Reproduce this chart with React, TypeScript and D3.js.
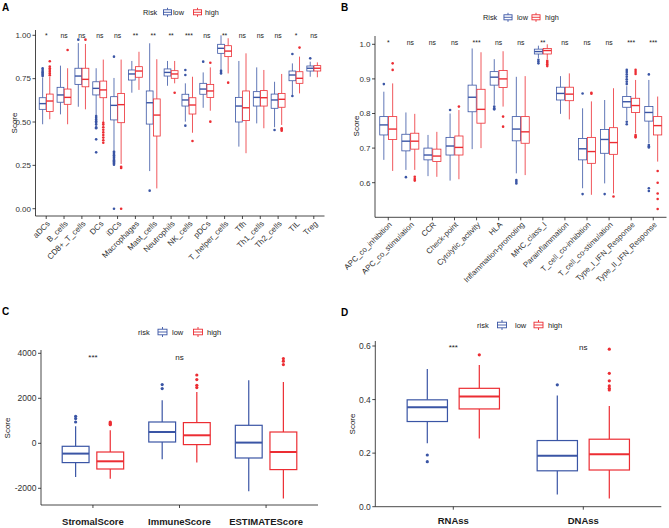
import React from "react";
import * as d3 from "d3";

const LOW_COLOR = "#3A55A5";
const HIGH_COLOR = "#EC2D33";
const FONT = "'Liberation Sans', Arial, Helvetica, sans-serif";
const INK = "#1a1a1a";

// ---------- Panel A ----------
const aCategories = ["aDCs", "B_cells", "CD8+_T_cells", "DCs", "iDCs", "Macrophages", "Mast_cells", "Neutrophils", "NK_cells", "pDCs", "T_helper_cells", "Tfh", "Th1_cells", "Th2_cells", "TIL", "Treg"];
const aSignif = ["*", "ns", "ns", "ns", "ns", "**", "**", "**", "***", "ns", "**", "ns", "ns", "ns", "*", "ns"];
// [lower whisker, Q1, median, Q3, upper whisker]
const aLowStats = [
  [0.487, 0.573, 0.606, 0.640, 0.757],
  [0.544, 0.614, 0.656, 0.700, 0.825],
  [0.588, 0.717, 0.765, 0.810, 0.955],
  [0.540, 0.656, 0.694, 0.732, 0.810],
  [0.338, 0.512, 0.596, 0.646, 0.754],
  [0.669, 0.742, 0.777, 0.800, 0.852],
  [0.217, 0.488, 0.611, 0.679, 0.954],
  [0.709, 0.765, 0.786, 0.806, 0.852],
  [0.502, 0.592, 0.627, 0.660, 0.723],
  [0.582, 0.660, 0.690, 0.723, 0.786],
  [0.804, 0.896, 0.925, 0.948, 1.000],
  [0.358, 0.500, 0.592, 0.642, 0.852],
  [0.492, 0.592, 0.642, 0.675, 0.815],
  [0.470, 0.579, 0.627, 0.661, 0.732],
  [0.656, 0.738, 0.771, 0.794, 0.838],
  [0.761, 0.794, 0.810, 0.823, 0.848],
];
const aHighStats = [
  [0.516, 0.560, 0.621, 0.661, 0.760],
  [0.487, 0.602, 0.642, 0.690, 0.810],
  [0.573, 0.703, 0.746, 0.810, 0.950],
  [0.500, 0.640, 0.685, 0.736, 0.860],
  [0.258, 0.496, 0.600, 0.665, 0.860],
  [0.685, 0.758, 0.794, 0.819, 0.905],
  [0.117, 0.419, 0.540, 0.633, 0.862],
  [0.723, 0.752, 0.777, 0.796, 0.852],
  [0.438, 0.546, 0.598, 0.640, 0.761],
  [0.565, 0.642, 0.679, 0.717, 0.815],
  [0.780, 0.877, 0.909, 0.940, 0.983],
  [0.320, 0.508, 0.582, 0.679, 0.896],
  [0.464, 0.592, 0.640, 0.681, 0.800],
  [0.483, 0.585, 0.631, 0.665, 0.777],
  [0.665, 0.723, 0.752, 0.790, 0.877],
  [0.758, 0.794, 0.810, 0.825, 0.844],
];
const aLowOutliers = [
  [0.765, 0.772, 0.778, 0.785, 0.79, 0.80, 0.81],
  [],
  [0.975],
  [0.535, 0.525, 0.515, 0.505, 0.495, 0.485, 0.47, 0.464, 0.40, 0.325],
  [0.877, 0.33, 0.322, 0.315, 0.308, 0.30, 0.294, 0.287, 0.28, 0.273, 0.266, 0.26, 0.254, 0.0],
  [],
  [0.104],
  [],
  [0.80, 0.771, 0.479],
  [0.848],
  [0.796, 0.788, 0.78],
  [],
  [],
  [0.454],
  [0.892, 0.65],
  [0.867],
];
const aHighOutliers = [
  [0.77, 0.78, 0.79, 0.80, 0.81, 0.82, 0.85],
  [0.915],
  [0.975],
  [0.496, 0.485, 0.47, 0.455, 0.44, 0.425, 0.41, 0.395, 0.38],
  [0.242, 0.235, 0.0],
  [],
  [],
  [0.669],
  [0.39],
  [0.842, 0.502],
  [0.727],
  [],
  [],
  [0.464, 0.457, 0.45],
  [0.929],
  [],
];
const aTicks = [0, 0.25, 0.5, 0.75, 1];

// ---------- Panel B ----------
const bCategories = ["APC_co_inhibition", "APC_co_stimulation", "CCR", "Check-point", "Cytolytic_activity", "HLA", "Inflammation-promoting", "MHC_class_I", "Parainflammation", "T_cell_co-inhibition", "T_cell_co-stimulation", "Type_I_IFN_Response", "Type_II_IFN_Response"];
const bSignif = ["*", "ns", "ns", "ns", "***", "ns", "ns", "**", "ns", "ns", "ns", "***", "***"];
const bLowStats = [
  [0.666, 0.738, 0.767, 0.791, 0.863],
  [0.637, 0.692, 0.720, 0.740, 0.803],
  [0.619, 0.666, 0.680, 0.700, 0.738],
  [0.606, 0.680, 0.706, 0.731, 0.800],
  [0.697, 0.805, 0.847, 0.882, 0.988],
  [0.825, 0.882, 0.905, 0.921, 0.957],
  [0.627, 0.721, 0.755, 0.791, 0.906],
  [0.960, 0.972, 0.979, 0.986, 0.996],
  [0.799, 0.839, 0.858, 0.876, 0.908],
  [0.584, 0.666, 0.698, 0.728, 0.815],
  [0.598, 0.685, 0.725, 0.754, 0.839],
  [0.781, 0.818, 0.834, 0.849, 0.879],
  [0.714, 0.778, 0.803, 0.820, 0.897],
];
const bHighStats = [
  [0.634, 0.725, 0.755, 0.791, 0.887],
  [0.637, 0.697, 0.720, 0.743, 0.799],
  [0.617, 0.661, 0.677, 0.697, 0.747],
  [0.610, 0.680, 0.702, 0.735, 0.810],
  [0.700, 0.772, 0.812, 0.870, 0.977],
  [0.820, 0.875, 0.900, 0.924, 0.980],
  [0.622, 0.714, 0.747, 0.791, 0.908],
  [0.957, 0.972, 0.982, 0.988, 1.000],
  [0.783, 0.837, 0.856, 0.876, 0.916],
  [0.565, 0.656, 0.690, 0.731, 0.835],
  [0.569, 0.682, 0.716, 0.759, 0.873],
  [0.743, 0.803, 0.823, 0.844, 0.897],
  [0.661, 0.738, 0.765, 0.791, 0.849],
];
const bLowOutliers = [
  [0.885],
  [0.616],
  [],
  [0.81],
  [],
  [0.82, 0.815, 0.812],
  [0.608, 0.603, 0.598],
  [0.955, 0.95, 0.945],
  [],
  [0.858, 0.567],
  [0.567],
  [0.926, 0.92, 0.913, 0.906, 0.899, 0.892, 0.885, 0.776, 0.769],
  [0.913, 0.709, 0.705, 0.702, 0.584, 0.576],
];
const bHighOutliers = [
  [0.945, 0.926],
  [0.617, 0.611, 0.606],
  [],
  [0.82],
  [],
  [0.791, 0.762],
  [],
  [0.952, 0.947, 0.942, 0.937],
  [],
  [0.857, 0.86],
  [0.56],
  [0.926, 0.92, 0.914, 0.738, 0.734, 0.731],
  [0.634, 0.60, 0.569, 0.553, 0.524],
];
const bTicks = [0.6, 0.7, 0.8, 0.9, 1.0];

// ---------- Panel C ----------
const cCategories = ["StromalScore", "ImmuneScore", "ESTIMATEScore"];
const cSignif = ["***", "ns", ""];
const cLowStats = [
  [-1498, -858, -458, -133, 756],
  [-711, 58, 502, 947, 1911],
  [-2133, -653, 31, 800, 2800],
];
const cHighStats = [
  [-1570, -1142, -800, -387, 578],
  [-858, -58, 356, 920, 2280],
  [-2458, -1169, -387, 502, 2724],
];
const cLowOutliers = [[1200, 1100, 947], [2609, 2431], []];
const cHighOutliers = [[947, 900, 860, 830], [3036, 2831, 2578, 2476], [3764, 3650, 3500]];
const cTicks = [-2000, 0, 2000, 4000];

// ---------- Panel D ----------
const dCategories = ["RNAss", "DNAss"];
const dSignif = ["***", "ns"];
const dLowStats = [
  [0.237, 0.318, 0.371, 0.399, 0.514],
  [0.046, 0.134, 0.190, 0.247, 0.415],
];
const dHighStats = [
  [0.255, 0.365, 0.411, 0.442, 0.529],
  [0.031, 0.137, 0.196, 0.252, 0.376],
];
const dLowOutliers = [[0.193, 0.168], [0.455]];
const dHighOutliers = [[0.567], [0.588, 0.498, 0.47, 0.451, 0.442, 0.436]];
const dTicks = [0, 0.2, 0.4, 0.6];

type PanelProps = {
  cats: string[];
  lowStats: number[][];
  highStats: number[][];
  lowOut: number[][];
  highOut: number[][];
  sig: string[];
  xr: [number, number];
  yDomain: [number, number];
  yRange: [number, number];
  axisTop: number;
  axisBottom: number;
  ticks: number[];
  fmt: (v: number) => string;
  boxW: number;
  dodge: number;
  rotate: boolean;
  tickFont: number;
  labelFont: number;
  sigFont: number;
  sigY: number;
  r: number;
  sw: number;
  mw: number;
  labelY: number;
};

function BoxPanel(p: PanelProps) {
  const xs = d3.scalePoint<string>().domain(p.cats).range(p.xr).padding(0.6);
  const step = xs.step();
  const y = d3.scaleLinear().domain(p.yDomain).range(p.yRange);
  const x0 = p.xr[0];
  const groups = [
    { stats: p.lowStats, out: p.lowOut, color: LOW_COLOR, sign: -1 },
    { stats: p.highStats, out: p.highOut, color: HIGH_COLOR, sign: 1 },
  ];
  const hw = (p.boxW * step) / 2;
  return (
    <g fontFamily={FONT}>
      {/* axes */}
      <line x1={x0} x2={x0} y1={p.axisTop} y2={p.axisBottom} stroke={INK} strokeWidth={0.8} />
      <line x1={x0} x2={p.xr[1]} y1={p.axisBottom} y2={p.axisBottom} stroke={INK} strokeWidth={0.8} />
      {p.ticks.map((t) => (
        <g key={"yt" + t}>
          <line x1={x0 - 3} x2={x0} y1={y(t)} y2={y(t)} stroke={INK} strokeWidth={0.8} />
          <text x={x0 - 4.5} y={y(t)} dy="0.35em" textAnchor="end" fontSize={p.tickFont} fill="#333">
            {p.fmt(t)}
          </text>
        </g>
      ))}
      {p.cats.map((c) => {
        const cx = xs(c) as number;
        return (
          <g key={"xt" + c}>
            <line x1={cx} x2={cx} y1={p.axisBottom} y2={p.axisBottom + 3} stroke={INK} strokeWidth={0.8} />
            {p.rotate ? (
              <text
                transform={`translate(${cx},${p.labelY}) rotate(-45)`}
                dy="0.75em"
                textAnchor="end"
                fontSize={p.labelFont}
                fill="#333"
              >
                {c}
              </text>
            ) : (
              <text x={cx} y={p.labelY} textAnchor="middle" fontSize={p.labelFont} fontWeight="bold" fill={INK}>
                {c}
              </text>
            )}
          </g>
        );
      })}
      {/* boxes */}
      {p.cats.map((c, i) => {
        const cc = xs(c) as number;
        return (
          <g key={"bx" + c}>
            {groups.map((g, gi) => {
              const [lo, q1, med, q3, hi] = g.stats[i];
              const bx = cc + g.sign * p.dodge * step;
              return (
                <g key={gi} stroke={g.color}>
                  <line x1={bx} x2={bx} y1={y(hi)} y2={y(q3)} strokeWidth={p.sw} />
                  <line x1={bx} x2={bx} y1={y(q1)} y2={y(lo)} strokeWidth={p.sw} />
                  <rect x={bx - hw} y={y(q3)} width={2 * hw} height={y(q1) - y(q3)} fill="white" strokeWidth={p.sw} />
                  <line x1={bx - hw} x2={bx + hw} y1={y(med)} y2={y(med)} strokeWidth={p.mw} />
                  {g.out[i].map((v, k) => (
                    <circle key={k} cx={bx} cy={y(v)} r={p.r} fill={g.color} stroke="none" />
                  ))}
                </g>
              );
            })}
            {p.sig[i] ? (
              <text x={cc} y={p.sigY} textAnchor="middle" fontSize={p.sigFont} fill={INK}>
                {p.sig[i]}
              </text>
            ) : null}
          </g>
        );
      })}
    </g>
  );
}

function KeyGlyph({ cx, cy, color, s, sw }: { cx: number; cy: number; color: string; s: number; sw: number }) {
  return (
    <g stroke={color} fill="white" strokeWidth={sw}>
      <line x1={cx} x2={cx} y1={cy - s * 0.5} y2={cy - s * 0.28} />
      <line x1={cx} x2={cx} y1={cy + s * 0.28} y2={cy + s * 0.5} />
      <rect x={cx - s * 0.45} y={cy - s * 0.28} width={s * 0.9} height={s * 0.56} />
      <line x1={cx - s * 0.45} x2={cx + s * 0.45} y1={cy} y2={cy} />
    </g>
  );
}

function Legend({ title, tx, k1, t1, k2, t2, y, fs, s }: { title: string; tx: number; k1: number; t1: number; k2: number; t2: number; y: number; fs: number; s: number }) {
  return (
    <g fontFamily={FONT} fontSize={fs} fill={INK}>
      <text x={tx} y={y} dy="0.35em">{title}</text>
      <KeyGlyph cx={k1} cy={y} color={LOW_COLOR} s={s} sw={0.9} />
      <text x={t1} y={y} dy="0.35em">low</text>
      <KeyGlyph cx={k2} cy={y} color={HIGH_COLOR} s={s} sw={0.9} />
      <text x={t2} y={y} dy="0.35em">high</text>
    </g>
  );
}

function YTitle({ x, y }: { x: number; y: number }) {
  return (
    <text transform={`translate(${x},${y}) rotate(-90)`} textAnchor="middle" fontFamily={FONT} fontSize={8} fill={INK}>
      Score
    </text>
  );
}

function PanelLetter({ x, y, t }: { x: number; y: number; t: string }) {
  return (
    <text x={x} y={y} fontFamily={FONT} fontSize={10} fontWeight="bold" fill="#000">
      {t}
    </text>
  );
}

export default function App() {
  const f2 = d3.format(".2f");
  const f1 = d3.format(".1f");
  const f0 = (v: number) => String(v);
  return (
    <svg width={669} height={528} style={{ position: "absolute", left: 0, top: 0, background: "white" }}>
      <rect x={0} y={0} width={669} height={528} fill="white" />
      <PanelLetter x={2} y={11} t="A" />
      <PanelLetter x={341} y={11} t="B" />
      <PanelLetter x={2} y={315} t="C" />
      <PanelLetter x={341} y={316} t="D" />

      <Legend title="Risk" tx={143} k1={167.5} t1={173} k2={197.5} t2={205} y={12.3} fs={7.3} s={9} />
      <Legend title="Risk" tx={483} k1={508} t1={517} k2={536} t2={545} y={17.3} fs={7.3} s={9} />
      <Legend title="risk" tx={138} k1={162.5} t1={172} k2={198} t2={207} y={332} fs={7.5} s={10} />
      <Legend title="risk" tx={477} k1={502} t1={515} k2={538.5} t2={548} y={325} fs={7.5} s={10} />

      <YTitle x={17} y={123} />
      <YTitle x={359} y={126} />
      <YTitle x={9.5} y={428} />
      <YTitle x={354.5} y={424} />

      <BoxPanel
        cats={aCategories} lowStats={aLowStats} highStats={aHighStats} lowOut={aLowOutliers} highOut={aHighOutliers} sig={aSignif}
        xr={[35.5, 324.5]} yDomain={[0, 1]} yRange={[208.7, 35.3]} axisTop={30} axisBottom={216}
        ticks={aTicks} fmt={f2} boxW={0.38} dodge={0.2} rotate={true}
        tickFont={8} labelFont={8} sigFont={6.8} sigY={37.5} r={1.3} sw={0.8} mw={1.4} labelY={220}
      />
      <BoxPanel
        cats={bCategories} lowStats={bLowStats} highStats={bHighStats} lowOut={bLowOutliers} highOut={bHighOutliers} sig={bSignif}
        xr={[375, 666.5]} yDomain={[0.6, 1.0]} yRange={[182.7, 44.3]} axisTop={36} axisBottom={217.3}
        ticks={bTicks} fmt={f1} boxW={0.37} dodge={0.2} rotate={true}
        tickFont={8} labelFont={7.8} sigFont={6.8} sigY={45} r={1.3} sw={0.8} mw={1.4} labelY={221}
      />
      <BoxPanel
        cats={cCategories} lowStats={cLowStats} highStats={cHighStats} lowOut={cLowOutliers} highOut={cHighOutliers} sig={cSignif}
        xr={[41, 318]} yDomain={[-2000, 4000]} yRange={[488.3, 353.3]} axisTop={350} axisBottom={505}
        ticks={cTicks} fmt={f0} boxW={0.31} dodge={0.2} rotate={false}
        tickFont={8.5} labelFont={9.5} sigFont={8} sigY={360} r={1.6} sw={1.2} mw={2} labelY={525}
      />
      <BoxPanel
        cats={dCategories} lowStats={dLowStats} highStats={dHighStats} lowOut={dLowOutliers} highOut={dHighOutliers} sig={dSignif}
        xr={[375.3, 661.3]} yDomain={[0, 0.6]} yRange={[506.7, 346]} axisTop={341} axisBottom={506.7}
        ticks={dTicks} fmt={f1} boxW={0.31} dodge={0.2} rotate={false}
        tickFont={8.5} labelFont={9.5} sigFont={8} sigY={350} r={1.6} sw={1.2} mw={2} labelY={523.5}
      />
    </svg>
  );
}
